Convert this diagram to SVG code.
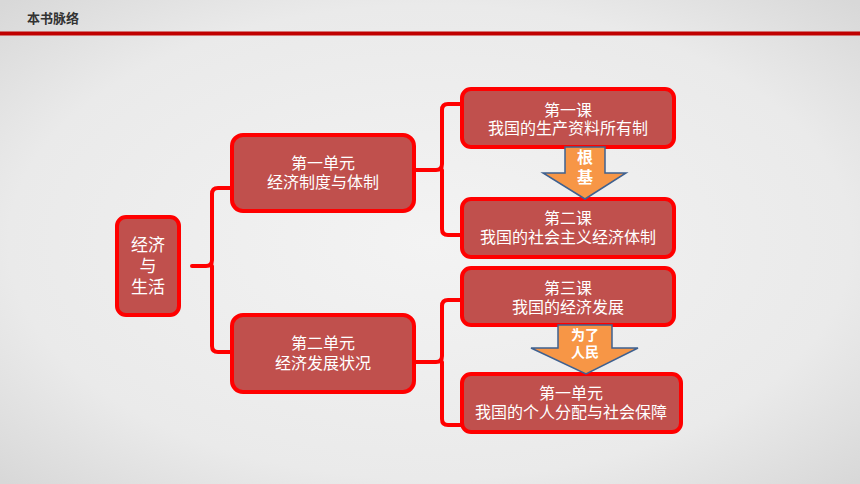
<svg xmlns="http://www.w3.org/2000/svg" width="860" height="484" viewBox="0 0 860 484">
<defs>
<radialGradient id="bg" cx="50%" cy="50%" r="70%">
<stop offset="0" stop-color="#F3F3F3"/>
<stop offset="0.7" stop-color="#EAEAEA"/>
<stop offset="1" stop-color="#D8D8D8"/>
</radialGradient>
</defs>
<style>
.box{fill:#C0504D;stroke:#FF0000;stroke-width:4}
.t{font-family:"Noto Sans CJK SC","Noto Sans",sans-serif;fill:#FFFFFF;text-anchor:middle;font-size:16px}
.brace{fill:none;stroke:#FF0000;stroke-width:4;stroke-linejoin:round;stroke-linecap:round}
.arr{fill:#F79646;stroke:#3F6190;stroke-width:1.5}
.at{font-family:"Noto Sans CJK SC","Noto Sans",sans-serif;fill:#FFFFFF;font-weight:bold;text-anchor:middle}
</style>
<rect width="860" height="484" fill="url(#bg)"/>
<g id="header">
<text x="27" y="23" font-family="'Noto Sans CJK SC','Noto Sans',sans-serif" font-size="13" font-weight="bold" fill="#333333">本书脉络</text>
<rect x="0" y="31.5" width="860" height="4" fill="#C00000"/>
</g>
<g id="connectors">
<path class="brace" d="M192,266 H206 Q212,266 212,260 V194 Q212,188 218,188 H232"/>
<path class="brace" d="M212,266 V346 Q212,352 218,352 H232"/>
<path class="brace" d="M416,170 H436 Q442,170 442,164 V110 Q442,104 448,104 H462"/>
<path class="brace" d="M442,170 V229 Q442,235 448,235 H462"/>
<path class="brace" d="M416,362 H436 Q442,362 442,356 V306 Q442,300 448,300 H462"/>
<path class="brace" d="M442,362 V419 Q442,425 448,425 H462"/>
</g>
<g id="n-root">
<rect class="box" x="117" y="217" width="62" height="98" rx="9"/>
<text class="t" style="font-size:17px"><tspan x="148" y="251">经济</tspan><tspan x="148" y="272">与</tspan><tspan x="148" y="293">生活</tspan></text>
</g>
<g id="n-unit1">
<rect class="box" x="232" y="135" width="182" height="76" rx="11"/>
<text class="t"><tspan x="323" y="169">第一单元</tspan><tspan x="323" y="188">经济制度与体制</tspan></text>
</g>
<g id="n-unit2">
<rect class="box" x="232" y="315" width="182" height="77" rx="11"/>
<text class="t"><tspan x="323" y="349">第二单元</tspan><tspan x="323" y="369">经济发展状况</tspan></text>
</g>
<g id="n-lesson1">
<rect class="box" x="462" y="89" width="212" height="58" rx="9"/>
<text class="t"><tspan x="568" y="116">第一课</tspan><tspan x="568" y="134">我国的生产资料所有制</tspan></text>
</g>
<g id="n-lesson2">
<rect class="box" x="462" y="199" width="212" height="58" rx="9"/>
<text class="t"><tspan x="568" y="224">第二课</tspan><tspan x="568" y="243">我国的社会主义经济体制</tspan></text>
</g>
<g id="n-lesson3">
<rect class="box" x="462" y="268" width="212" height="57" rx="9"/>
<text class="t"><tspan x="568" y="294">第三课</tspan><tspan x="568" y="313">我国的经济发展</tspan></text>
</g>
<g id="n-unit-dist">
<rect class="box" x="462" y="374" width="219" height="58" rx="9"/>
<text class="t"><tspan x="571" y="399">第一单元</tspan><tspan x="571" y="418">我国的个人分配与社会保障</tspan></text>
</g>
<g id="arrow1">
<path class="arr" d="M565,147 H605 V173 H626 L585,199 L543,173 H565 Z"/>
<text class="at" font-size="16"><tspan x="585" y="163">根</tspan><tspan x="585" y="183">基</tspan></text>
</g>
<g id="arrow2">
<path class="arr" d="M558,325 H612 V348 H638 L586,374 L531,348 H558 Z"/>
<text class="at" font-size="14"><tspan x="585" y="340">为了</tspan><tspan x="585" y="357">人民</tspan></text>
</g>
</svg>
